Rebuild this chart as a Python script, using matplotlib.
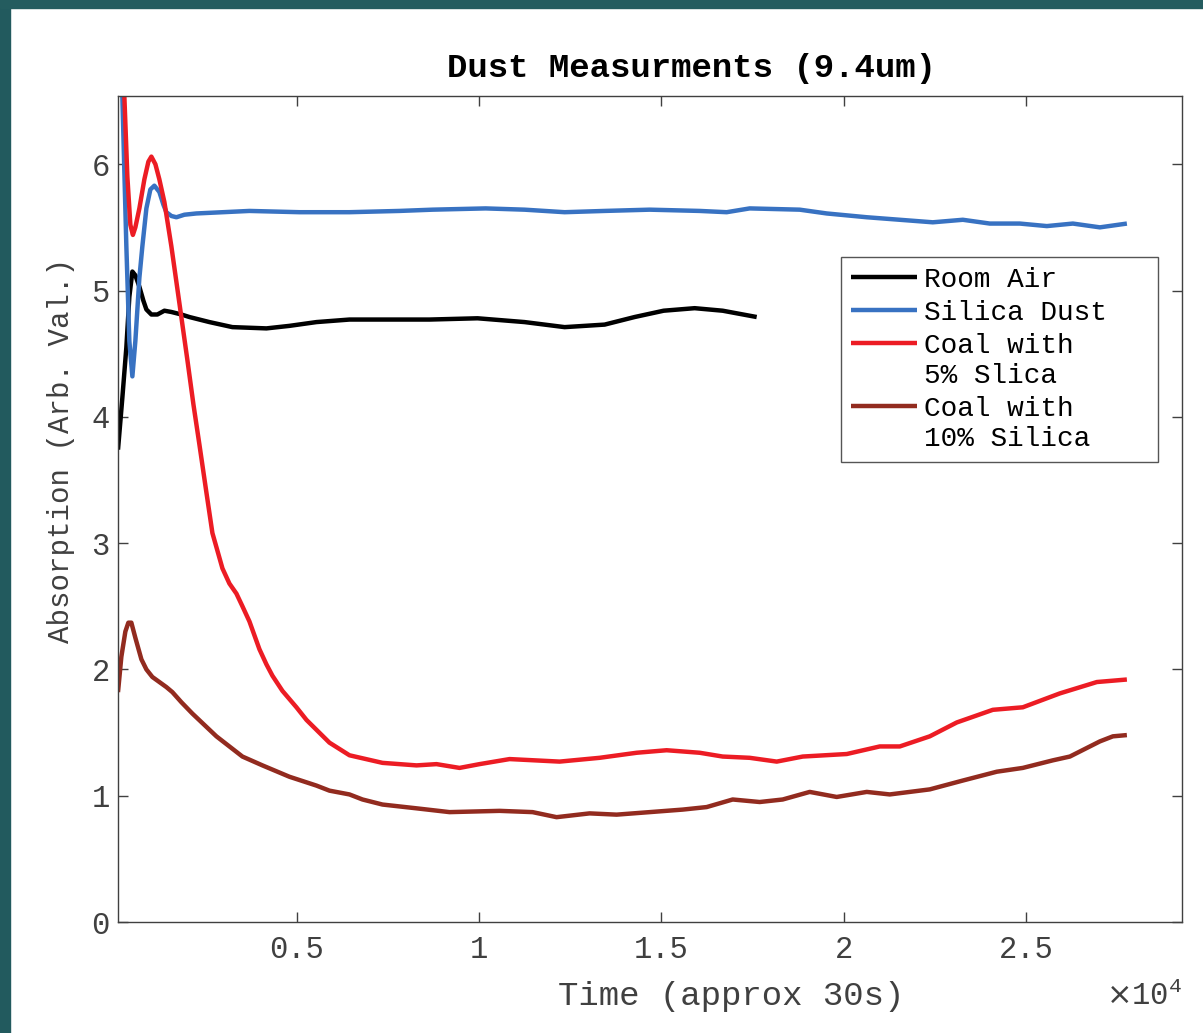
import numpy as np
import matplotlib
matplotlib.use("Agg")
import matplotlib.pyplot as plt
from matplotlib.patches import Rectangle
from matplotlib.ticker import FuncFormatter

# data (time in samples, absorption in arb. units)
room_air_t = [100, 219, 329, 411, 494, 576, 686, 795, 878, 1015, 1179, 1372, 1563,
              1838, 2057, 2606, 3237, 4169, 4800, 5541, 6446, 7461, 8640, 9957,
              11246, 12344, 13441, 14264, 15059, 15909, 16677, 17610]
room_air = [3.74, 4.15, 4.55, 4.95, 5.15, 5.12, 5.03, 4.92, 4.85, 4.81, 4.81, 4.84, 4.83,
            4.81, 4.79, 4.75, 4.71, 4.70, 4.72, 4.75, 4.77, 4.77, 4.77, 4.78,
            4.75, 4.71, 4.73, 4.79, 4.84, 4.86, 4.84, 4.79]

silica_t = [100, 219, 329, 411, 494, 576, 686, 768, 878, 987, 1097, 1234, 1344, 1426,
            1563, 1701, 1920, 2249, 3703, 5075, 6446, 7818, 8723, 10177, 11246,
            12344, 13441, 14675, 16047, 16787, 17418, 18790, 19530, 20628, 21533,
            22437, 23261, 24001, 24824, 25565, 26278, 27019, 27759]
silica = [7.0, 6.54, 5.35, 4.6, 4.32, 4.6, 5.1, 5.35, 5.65, 5.8, 5.83, 5.78, 5.68, 5.62,
          5.59, 5.58, 5.60, 5.61, 5.63, 5.62, 5.62, 5.63, 5.64, 5.65, 5.64,
          5.62, 5.63, 5.64, 5.63, 5.62, 5.65, 5.64, 5.61, 5.58, 5.56,
          5.54, 5.56, 5.53, 5.53, 5.51, 5.53, 5.50, 5.53]

coal5_t = [100, 274, 357, 439, 508, 576, 686, 823, 933, 1015, 1125, 1234, 1372, 1563,
           1783, 2002, 2167, 2332, 2524, 2688, 2963, 3154, 3347, 3511, 3703, 3977,
           4169, 4334, 4608, 4992, 5267, 5897, 6446, 7351, 8284, 8832, 9463, 10012,
           10835, 12206, 13304, 14319, 15141, 16047, 16677, 17418, 18159, 18872,
           20079, 20984, 21533, 22355, 23096, 24084, 24906, 25921, 26936, 27759]
coal5 = [7.4, 6.54, 5.9, 5.52, 5.44, 5.5, 5.65, 5.88, 6.02, 6.06, 6.0, 5.88, 5.7, 5.35,
         4.9, 4.45, 4.1, 3.78, 3.40, 3.08, 2.80, 2.68, 2.60, 2.50, 2.38, 2.16,
         2.04, 1.95, 1.83, 1.70, 1.60, 1.42, 1.32, 1.26, 1.24, 1.25, 1.22, 1.25,
         1.29, 1.27, 1.30, 1.34, 1.36, 1.34, 1.31, 1.30, 1.27, 1.31,
         1.33, 1.39, 1.39, 1.47, 1.58, 1.68, 1.70, 1.81, 1.90, 1.92]

coal10_t = [100, 192, 302, 384, 466, 576, 741, 878, 1042, 1234, 1426, 1591, 1838, 2140,
            2798, 3511, 4060, 4800, 5541, 5897, 6446, 6803, 7351, 8284, 9189, 10561,
            11466, 12124, 13029, 13770, 14675, 15580, 16239, 16952, 17692, 18323,
            19064, 19804, 20628, 21258, 22355, 23261, 24193, 24906, 25729, 26196,
            27019, 27375, 27759]
coal10 = [1.82, 2.1, 2.3, 2.37, 2.37, 2.25, 2.08, 2.0, 1.94, 1.90, 1.86, 1.82, 1.74, 1.65,
          1.47, 1.31, 1.24, 1.15, 1.08, 1.04, 1.01, 0.97, 0.93, 0.90, 0.87, 0.88,
          0.87, 0.83, 0.86, 0.85, 0.87, 0.89, 0.91, 0.97, 0.95, 0.97,
          1.03, 0.99, 1.03, 1.01, 1.05, 1.12, 1.19, 1.22, 1.28, 1.31,
          1.43, 1.47, 1.48]

labels = ["Room Air", "Silica Dust", "Coal with\n5% Slica", "Coal with\n10% Silica"]
colors = ["#000000", "#3872C2", "#EC1C24", "#922B1F"]

mono = "Liberation Mono"
grey = "#404040"

fig = plt.figure(figsize=(12.03, 10.33), dpi=100)
# teal slide border on the left and top
fig.patches.append(Rectangle((0, 0), 10 / 1203, 1, transform=fig.transFigure,
                             color="#225A5E", zorder=0))
fig.patches.append(Rectangle((0, 1 - 8 / 1033), 1, 8 / 1033, transform=fig.transFigure,
                             color="#245C5F", zorder=0))

ax = fig.add_axes([118 / 1203, 111 / 1033, 1064 / 1203, 826 / 1033])

series = [(room_air_t, room_air), (silica_t, silica), (coal5_t, coal5), (coal10_t, coal10)]
for (t, v), lab, c in zip(series, labels, colors):
    ax.plot(t, v, color=c, lw=3.2, label=lab, solid_capstyle="butt",
            solid_joinstyle="round")

ax.set_xlim(100, 29270)
ax.set_ylim(0, 6.54)
ax.set_xticks([5000, 10000, 15000, 20000, 25000])
ax.set_yticks([0, 1, 2, 3, 4, 5, 6])
ax.xaxis.set_major_formatter(FuncFormatter(lambda v, p: "%g" % (v / 1e4)))

ax.tick_params(direction="in", length=7, width=1, color=grey, top=True, right=True,
               labelsize=22, labelcolor=grey)
ax.tick_params(axis="x", pad=9)
ax.tick_params(axis="y", pad=6)
for lab in ax.get_xticklabels() + ax.get_yticklabels():
    lab.set_fontfamily(mono)
for s in ax.spines.values():
    s.set_color(grey)
    s.set_linewidth(1)

ax.set_title("Dust Measurments (9.4um)", fontfamily=mono, fontweight="bold",
             fontsize=24.5, x=0.539, pad=14)
ax.set_xlabel("Time (approx 30s)", fontfamily=mono, fontsize=24.5, color=grey)
ax.xaxis.set_label_coords(0.576, -0.072)
ax.set_ylabel("Absorption (Arb. Val.)", fontfamily=mono, fontsize=21, color=grey)
ax.yaxis.set_label_coords(-0.040, 0.571)

ax.text(1.0, -0.09, r"$\times\mathregular{10^{4}}$", transform=ax.transAxes,
        ha="right", va="center", fontsize=22, color=grey, fontfamily=mono)

leg = ax.legend(loc="upper left", bbox_to_anchor=(0.6795, 0.552, 0.298, 0.253),
                mode="expand", borderaxespad=0, fancybox=False, framealpha=1,
                edgecolor="#555555", handlelength=2.4, handletextpad=0.25,
                borderpad=0.35, labelspacing=0.26,
                prop={"family": mono, "size": 20})
leg.get_frame().set_linewidth(1)
# put the handle next to the first line of two-line labels
for col in leg._legend_handle_box.get_children():
    for row in col.get_children():
        row.align = "top"

fig.savefig("out.png", dpi=100)
